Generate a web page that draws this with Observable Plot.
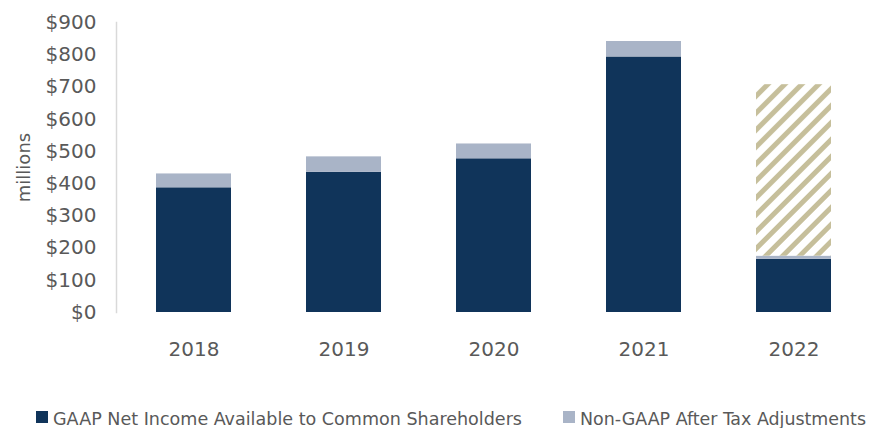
<!DOCTYPE html>
<html>
<head>
<meta charset="utf-8">
<script src="https://cdn.jsdelivr.net/npm/d3@7"></script>
<script src="https://cdn.jsdelivr.net/npm/@observablehq/plot@0.6"></script>
<style>
  html, body { margin: 0; padding: 0; background: #fff; }
  #chart { position: relative; width: 871px; height: 428px; overflow: hidden; }
  #legend { position: absolute; left: 0; top: 400px; }
</style>
</head>
<body>
<div id="chart"></div>
<script>
const years = ["2018", "2019", "2020", "2021", "2022"];
const gaapNetIncome = [387, 435, 477, 793, 165];
const nonGaapAdjustments = [43, 48, 46, 48, 10];
const hatchedRemainder = [0, 0, 0, 0, 532];
const seriesNames = ["GAAP Net Income Available to Common Shareholders", "Non-GAAP After Tax Adjustments", "Hatched"];
const yTicks = [0, 100, 200, 300, 400, 500, 600, 700, 800, 900];

const navy = "#10345a";
const lightBlue = "#a9b4c7";
const tan = "#c6bf9b";

const rows = [];
years.forEach((yr, i) => {
  rows.push({year: yr, series: seriesNames[0], value: gaapNetIncome[i]});
  rows.push({year: yr, series: seriesNames[1], value: nonGaapAdjustments[i]});
  if (hatchedRemainder[i] > 0) rows.push({year: yr, series: seriesNames[2], value: hatchedRemainder[i]});
});

const textColor = "#595959";

const plot = Plot.plot({
  width: 871,
  height: 390,
  marginLeft: 116,
  marginRight: 0,
  marginTop: 22,
  marginBottom: 78,
  style: {fontFamily: "DejaVu Sans, sans-serif", fontSize: "20px", color: textColor, background: "#fff"},
  x: {domain: years, paddingInner: 0.5, paddingOuter: 0.26, label: null},
  y: {domain: [0, 900], label: null},
  color: {domain: seriesNames, range: [navy, lightBlue, "url(#hatch22)"]},
  marks: [
    Plot.frame({anchor: "left", stroke: "#d9d9d9", strokeWidth: 1.5}),
    Plot.barY(rows, {x: "year", y: "value", fill: "series", order: seriesNames}),
    Plot.axisX({tickSize: 0, tickPadding: 29, label: null, fontSize: 20}),
    Plot.axisY({ticks: yTicks, tickSize: 0, tickPadding: 20, tickFormat: d => "$" + d,
      label: "millions", labelAnchor: "center", labelArrow: "none", labelOffset: 99, fontSize: 20})
  ]
});

const ns = "http://www.w3.org/2000/svg";
const defs = document.createElementNS(ns, "defs");
defs.innerHTML = `<pattern id="hatch22" patternUnits="userSpaceOnUse" width="12" height="12" patternTransform="rotate(45)">
  <rect width="12" height="12" fill="#ffffff"/>
  <rect x="0" width="5" height="12" fill="${tan}"/>
</pattern>`;
plot.insertBefore(defs, plot.firstChild);

// y-axis label slightly smaller than tick labels
plot.querySelectorAll("text").forEach(t => {
  if (t.textContent === "millions") t.setAttribute("font-size", 18);
});

document.getElementById("chart").appendChild(plot);

// legend below the chart
const legendItems = [
  {label: seriesNames[0], color: navy, sx: 36, tx: 53, tw: 469},
  {label: seriesNames[1], color: lightBlue, sx: 563, tx: 580, tw: 286}
];
const legend = d3.select("#chart").append("svg")
  .attr("id", "legend").attr("width", 871).attr("height", 28);
legendItems.forEach(it => {
  legend.append("rect").attr("x", it.sx).attr("y", 11).attr("width", 12).attr("height", 12).attr("fill", it.color);
  legend.append("text").attr("x", it.tx).attr("y", 25)
    .attr("font-family", "DejaVu Sans Condensed, DejaVu Sans, sans-serif")
    .attr("font-size", 18).attr("fill", textColor)
    .attr("textLength", it.tw).attr("lengthAdjust", "spacingAndGlyphs")
    .text(it.label);
});
</script>
</body>
</html>
